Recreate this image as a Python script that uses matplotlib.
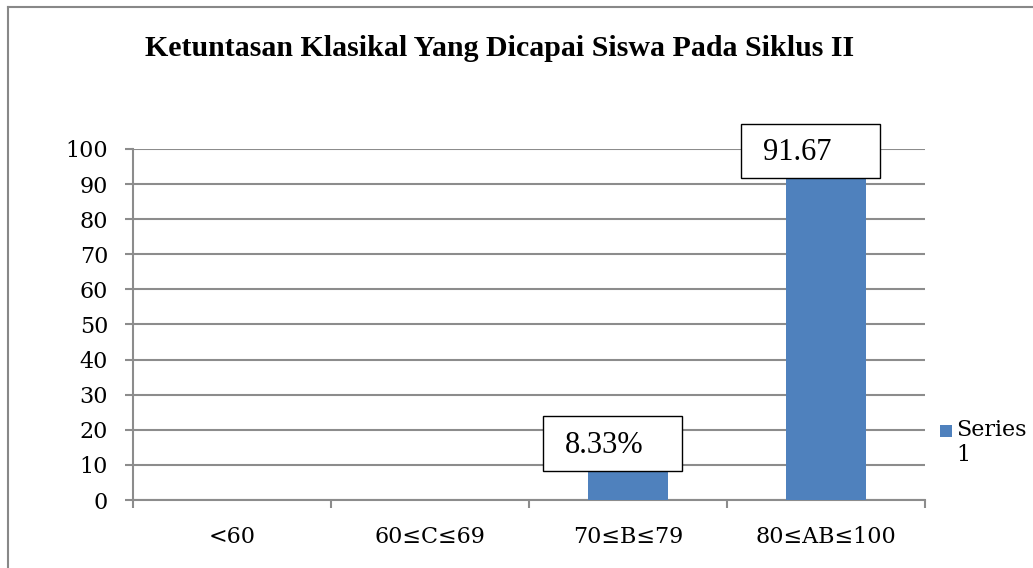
import matplotlib.pyplot as plt
from matplotlib.patches import Rectangle
from matplotlib.lines import Line2D

categories = ['<60', '60≤C≤69', '70≤B≤79', '80≤AB≤100']
values = [0, 0, 8.33, 91.67]
value_labels = ['', '', '8.33%', '91.67']
series_name = 'Series\n1'
title = 'Ketuntasan Klasikal Yang Dicapai Siswa Pada Siklus II'

BAR_COLOR = '#4F81BD'
GRID_COLOR = '#8C8C8C'
SERIF = ['Liberation Serif', 'DejaVu Serif']
TICK_FONT = ['DejaVu Serif']

fig = plt.figure(figsize=(10.33, 5.68), dpi=100)
ax = fig.add_axes([0.1288, 0.1197, 0.8955 - 0.1288, 0.7377 - 0.1197])

x = list(range(len(categories)))
ax.bar(x, values, width=0.4, color=BAR_COLOR, zorder=3)

ax.set_xlim(-0.5, len(categories) - 0.5)
ax.set_ylim(0, 100)
ax.set_yticks(range(0, 101, 10))
ax.yaxis.grid(True, color=GRID_COLOR, linewidth=1.5)
ax.set_axisbelow(True)

for side in ['top', 'right']:
    ax.spines[side].set_visible(False)
for side in ['left', 'bottom']:
    ax.spines[side].set_color(GRID_COLOR)
    ax.spines[side].set_linewidth(1.5)

ax.set_xticks(x)
ax.set_xticklabels(categories)
ax.set_xticks([i - 0.5 for i in range(len(categories) + 1)], minor=True)
ax.tick_params(axis='x', which='major', length=0, pad=19)
ax.tick_params(axis='x', which='minor', length=6, width=1.5, color=GRID_COLOR)
ax.tick_params(axis='y', length=6, width=1.5, color=GRID_COLOR, pad=12)
for lab in ax.get_xticklabels() + ax.get_yticklabels():
    lab.set_fontfamily(TICK_FONT)
    lab.set_fontsize(16)

# data label boxes sitting on top of the bars
for xi, v, lab in zip(x, values, value_labels):
    if not lab:
        continue
    bx = xi - 0.078 - 0.35
    box = Rectangle((bx, v), 0.70, 15.5, facecolor='white', edgecolor='black',
                    linewidth=1.0, zorder=4, clip_on=False)
    ax.add_patch(box)
    ax.text(bx + 0.11, v + 7.3, lab, fontsize=22, family=SERIF,
            va='center', ha='left', zorder=5, clip_on=False)

fig.suptitle(title, x=0.484, y=0.938, fontsize=21.5, fontweight='bold', family=SERIF,
             va='top')

# legend drawn by hand
fig.patches.append(Rectangle((940 / 1033, 1 - 437 / 568), 12 / 1033, 12 / 568,
                             transform=fig.transFigure, facecolor=BAR_COLOR,
                             edgecolor='none'))
fig.text(956 / 1033, 1 - 419 / 568, series_name, fontsize=16, family=TICK_FONT,
         va='top', ha='left', linespacing=1.2)

# outer frame (only left and top edges visible)
fig.add_artist(Line2D([8 / 1033, 8 / 1033], [0, 1 - 7 / 568], transform=fig.transFigure,
                      color='#888888', linewidth=1.5))
fig.add_artist(Line2D([8 / 1033, 1], [1 - 7 / 568, 1 - 7 / 568], transform=fig.transFigure,
                      color='#888888', linewidth=1.5))

fig.savefig('out.png', dpi=100)
